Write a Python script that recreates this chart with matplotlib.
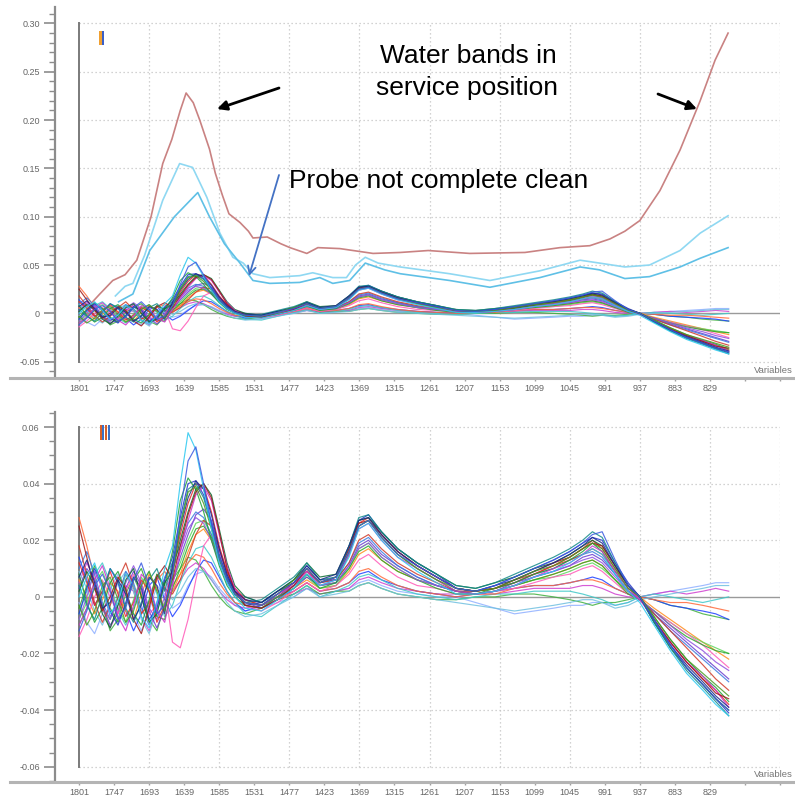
import matplotlib
matplotlib.use('Agg')
import matplotlib.pyplot as plt
import matplotlib.patheffects as pe
import numpy as np
from matplotlib.ticker import MultipleLocator
from matplotlib.lines import Line2D
from matplotlib.patches import FancyArrowPatch

plt.rcParams['font.family'] = ['Liberation Sans', 'DejaVu Sans']

# ---------------- data ----------------
wavenumbers = [1801, 1789, 1777, 1765, 1753, 1741, 1729, 1717, 1705, 1693, 1681, 1669, 1657,
               1645, 1633, 1621, 1609, 1597, 1585, 1573, 1561,
               1545, 1520, 1495, 1470, 1450, 1430, 1405,
               1385, 1370, 1355, 1335, 1310, 1280,
               1250, 1220, 1190, 1160, 1130, 1100,
               1070, 1045, 1025, 1010, 995, 975, 955,
               937, 915, 890, 865, 840, 820, 800]

# spectra values in milli-absorbance units
bundle_mAU = [
    [-2, -9, -13, -6, 3, 8, 2, -6, -12, -5, 4, 1, -4, -2, 4, 8, 9, 7, 3, 0, -3,
     -5, -4, -2, 0, 3, 1, 2, 3, 5, 6, 4, 2, 1, 0, 0, -2, -4, -6, -5,
     -4, -3, -3, -2, -2, -3, -2, 0, 1, 2, 3, 4, 5, 5],
    [5, 12, 6, -4, -11, -5, 4, 2, -7, -12, -4, 6, 2, 6, 10, 12, 10, 6, 2, -1, -3,
     -4, -3, -1, 1, 3, 1, 2, 3, 6, 7, 5, 3, 2, 1, 1, 1, 1, 2, 3,
     3, 3, 4, 4, 3, 1, 0, 0, 1, 2, 1, 2, 3, 2],
    [-10, -4, 3, -3, -12, -8, 1, 7, 1, -8, -12, -3, 6, 10, 14, 13, 9, 4, 0, -3, -5,
     -6, -4, -1, 1, 4, 1, 2, 2, 4, 5, 3, 1, 0, -1, -1, 0, 0, 1, 1,
     0, -1, -2, -3, -2, -2, -1, 0, -1, -3, -4, -6, -7, -8],
    [14, 6, -3, 2, 10, 5, -5, -12, -6, 4, 7, -1, -7, -3, 3, 9, 13, 12, 7, 2, -2,
     -5, -3, 0, 2, 5, 2, 3, 5, 8, 9, 6, 4, 2, 1, 0, 1, 2, 3, 4,
     4, 5, 6, 7, 6, 3, 1, 0, -1, -3, -4, -5, -6, -8],
    [-6, 2, 8, 12, 5, -5, -10, -4, 5, 9, 1, -7, -3, 5, 12, 17, 18, 14, 8, 2, -2,
     -6, -7, -3, 1, 4, 0, 2, 4, 7, 8, 6, 3, 1, 0, -1, 0, 1, 1, 2,
     2, 2, 1, 0, -1, -3, -2, 0, 1, 0, -1, -2, -1, 0],
    [28, 18, 6, -4, -8, 0, 8, 3, -6, -3, 6, 9, 4, 8, 12, 15, 14, 10, 5, 1, -2,
     -3, -4, -1, 2, 5, 2, 3, 5, 9, 10, 7, 4, 2, 1, 0, 1, 1, 3, 4,
     4, 5, 6, 6, 5, 3, 1, 0, -1, -2, -2, -3, -4, -5],
    [9, 3, -5, -10, -3, 5, 9, 2, -8, -13, -5, 3, -1, 2, 7, 10, 9, 6, 2, -2, -5,
     -7, -6, -3, 0, 3, 0, 1, 2, 4, 5, 3, 1, 0, -1, -2, -3, -4, -5, -4,
     -3, -2, -1, -1, -2, -4, -3, -1, 0, 1, 2, 3, 4, 4],
    [6, 0, -6, -1, 5, 2, -5, -8, 1, 8, 3, -4, 2, 8, 16, 22, 24, 20, 13, 6, 1,
     -2, -3, 0, 3, 6, 3, 4, 9, 15, 17, 13, 9, 6, 4, 2, 1, 2, 4, 6,
     8, 10, 12, 13, 11, 6, 2, 0, -4, -8, -12, -16, -19, -22],
    [-8, -2, 5, 9, 2, -4, -9, -1, 7, 2, -7, -2, 6, 12, 20, 26, 27, 22, 14, 7, 2,
     -1, -3, 0, 4, 7, 3, 4, 10, 17, 19, 14, 10, 6, 4, 2, 1, 2, 4, 6,
     7, 9, 11, 12, 10, 6, 2, -1, -5, -9, -13, -16, -18, -20],
    [3, 10, 6, -3, -10, -6, 3, 9, 4, -5, -11, -4, 5, 14, 22, 29, 31, 27, 17, 8, 2,
     -2, -4, -1, 3, 7, 4, 5, 11, 18, 20, 15, 11, 7, 4, 2, 1, 2, 5, 7,
     9, 11, 14, 15, 13, 8, 2, -1, -6, -11, -16, -21, -25, -29],
    [-14, -8, 0, 6, 0, -6, 2, 8, 2, -6, -3, 4, -16, -18, -8, 6, 18, 22, 16, 8, 2,
     -3, -5, -2, 2, 5, 2, 4, 8, 13, 15, 11, 7, 4, 3, 1, 1, 2, 3, 5,
     7, 8, 10, 11, 9, 5, 1, -1, -5, -9, -13, -17, -21, -25],
    [10, 16, 8, -2, -8, 0, 9, 5, -4, -10, -2, 7, 12, 18, 26, 30, 28, 22, 14, 7, 2,
     0, -2, 1, 5, 9, 5, 6, 12, 19, 21, 16, 11, 7, 4, 2, 2, 3, 5, 8,
     10, 13, 15, 16, 14, 8, 2, -1, -6, -12, -17, -22, -26, -30],
    [-4, 4, 11, 5, -4, -9, -3, 6, 10, 2, -7, -8, 3, 10, 18, 24, 25, 21, 13, 6, 1,
     -2, -3, 0, 4, 8, 4, 5, 10, 16, 18, 13, 9, 6, 3, 1, 1, 2, 4, 6,
     8, 10, 12, 13, 11, 6, 1, -1, -5, -10, -14, -17, -19, -20],
    [18, 8, -2, -9, -3, 6, 12, 4, -6, -2, 8, 3, 1, 6, 14, 22, 27, 25, 17, 9, 3,
     -1, -3, 0, 5, 9, 5, 6, 12, 20, 22, 17, 12, 8, 5, 2, 2, 3, 6, 8,
     11, 13, 15, 17, 15, 9, 3, 0, -6, -12, -18, -24, -29, -33],
    [-8, 0, 9, 3, -7, -3, 5, 11, 5, -4, -8, 0, 10, 16, 24, 28, 26, 20, 12, 5, 1,
     -2, -3, 0, 4, 8, 4, 5, 11, 17, 19, 14, 10, 6, 4, 2, 1, 2, 4, 7,
     9, 11, 13, 14, 12, 7, 2, -1, -5, -10, -15, -19, -23, -26],
    [12, 5, -3, 2, 9, 1, -7, -2, 6, 2, -9, -3, 10, 22, 33, 40, 39, 30, 18, 9, 3,
     -1, -3, 1, 5, 10, 5, 7, 17, 26, 28, 22, 16, 11, 7, 3, 2, 3, 5, 8,
     11, 14, 17, 20, 17, 10, 4, 0, -8, -16, -23, -29, -33, -38],
    [-6, 3, 10, 4, -5, -10, -2, 7, 3, -8, -4, 6, 14, 28, 40, 41, 36, 26, 15, 7, 2,
     -3, -2, 2, 6, 11, 6, 6, 16, 27, 29, 23, 17, 12, 8, 3, 2, 4, 7, 10,
     13, 16, 19, 21, 20, 12, 5, 0, -9, -17, -25, -31, -36, -41],
    [8, -2, -9, -4, 5, 9, 2, -6, -10, -1, 8, 4, 16, 34, 42, 38, 30, 20, 11, 4, 0,
     -3, -4, 0, 3, 8, 3, 5, 15, 25, 27, 21, 15, 10, 6, 2, 1, 3, 5, 8,
     10, 13, 16, 19, 16, 9, 3, 0, -7, -15, -22, -28, -32, -37],
    [2, 9, 4, -6, -11, -3, 6, 10, 0, -9, -6, 5, 9, 20, 30, 38, 40, 36, 24, 12, 4,
     0, -2, 2, 6, 12, 7, 8, 18, 27, 28, 23, 17, 12, 8, 4, 3, 5, 7, 10,
     12, 15, 18, 20, 18, 11, 4, 0, -9, -18, -25, -31, -36, -40],
    [-10, -4, 6, 11, 3, -7, -12, -3, 8, 5, -5, -9, 4, 16, 27, 36, 39, 34, 22, 11, 3,
     -2, -3, 1, 4, 9, 4, 6, 15, 24, 26, 20, 14, 10, 6, 2, 1, 2, 4, 7,
     10, 12, 15, 18, 16, 9, 3, -1, -8, -16, -23, -28, -33, -39],
    [25, 14, 3, -5, 0, 7, 3, -8, -13, -4, 7, 11, 6, 18, 29, 37, 40, 35, 23, 10, 2,
     -3, -4, -1, 4, 10, 5, 7, 17, 26, 27, 22, 16, 11, 7, 3, 2, 3, 6, 9,
     12, 14, 17, 19, 18, 11, 4, 0, -8, -16, -23, -29, -34, -36],
    [4, -3, -8, 1, 10, 6, -4, -9, -2, 6, 10, 2, 12, 26, 38, 40, 35, 25, 14, 6, 1,
     -2, -1, 3, 7, 12, 6, 7, 18, 28, 29, 23, 17, 12, 8, 4, 3, 5, 8, 11,
     14, 17, 20, 23, 21, 12, 4, 0, -9, -18, -26, -32, -37, -42],
    [7, 13, 5, -4, -2, 6, 1, -8, -3, 7, 4, -6, 11, 24, 35, 41, 38, 29, 17, 8, 2,
     -1, -2, 2, 5, 11, 6, 8, 18, 27, 28, 22, 16, 11, 7, 3, 2, 4, 6, 9,
     12, 15, 18, 21, 19, 11, 4, 0, -8, -17, -24, -30, -35, -39],
    [-3, -10, -5, 4, 7, -1, -9, -5, 4, 9, 2, -5, 7, 25, 37, 39, 33, 24, 14, 6, 1,
     -2, -3, 1, 6, 10, 5, 7, 16, 25, 27, 21, 15, 10, 6, 3, 2, 3, 6, 9,
     11, 14, 17, 19, 17, 10, 3, 0, -7, -15, -22, -27, -31, -35],
    [0, 7, 12, 3, -6, -2, 8, 4, -7, -11, -2, 10, 18, 40, 58, 52, 38, 24, 12, 5, 0,
     -4, -5, -1, 3, 8, 4, 6, 14, 24, 26, 20, 14, 9, 5, 1, 1, 2, 4, 7,
     9, 12, 15, 17, 15, 8, 2, -2, -10, -19, -27, -33, -38, -42],
    [-12, -5, 4, 8, 2, -8, -4, 6, 12, 4, -6, -3, 8, 30, 48, 53, 40, 26, 14, 6, 1,
     -2, -3, 1, 5, 10, 5, 7, 16, 25, 27, 21, 15, 11, 7, 3, 2, 4, 7, 10,
     13, 16, 19, 22, 23, 13, 4, 0, -8, -17, -25, -31, -36, -40],
]
bundle_colors = ['#8fb0ff', '#d040d0', '#40b040', '#2040ff', '#40c8c8', '#ff6a3a', '#70c0e0',
                 '#ff8a1c', '#5ed65e', '#6a3dcf', '#ff5ab8', '#3b7be0', '#2aa82a', '#d03a2a',
                 '#9050e0', '#e8262a', '#2233cc', '#1ea33a', '#0a6a30', '#cc33cc', '#a01818',
                 '#128a8a', '#1a2a8a', '#4a9a20', '#2ac8f0', '#3a5ae0']

water_wn = [1780, 1769, 1749, 1730, 1712, 1690, 1672, 1658, 1645, 1636, 1625, 1615, 1600,
            1591, 1580, 1570, 1553, 1540, 1533, 1511, 1490, 1476, 1450, 1433, 1399, 1348,
            1306, 1263, 1199, 1114, 1060, 1014, 983, 960, 937, 906, 875, 844, 821, 801]
water_val = [0.012, 0.020, 0.034, 0.040, 0.055, 0.100, 0.155, 0.180, 0.210, 0.228, 0.218,
             0.200, 0.170, 0.145, 0.122, 0.103, 0.094, 0.085, 0.078, 0.079, 0.072, 0.068,
             0.062, 0.068, 0.067, 0.062, 0.063, 0.065, 0.062, 0.063, 0.068, 0.070, 0.077,
             0.085, 0.096, 0.127, 0.169, 0.220, 0.262, 0.290]

dirty1_wn = [1745, 1730, 1718, 1700, 1672, 1646, 1626, 1604, 1584, 1564, 1548, 1533, 1507,
             1461, 1441, 1410, 1389, 1375, 1360, 1340, 1306, 1230, 1168, 1091, 1029, 999,
             960, 922, 875, 844, 801]
dirty1_val = [0.018, 0.028, 0.031, 0.060, 0.117, 0.155, 0.151, 0.120, 0.083, 0.058, 0.052,
              0.041, 0.037, 0.039, 0.042, 0.037, 0.037, 0.050, 0.058, 0.052, 0.048, 0.041,
              0.034, 0.044, 0.055, 0.052, 0.048, 0.050, 0.065, 0.083, 0.101]

dirty2_wn = [1740, 1718, 1692, 1654, 1618, 1600, 1577, 1553, 1533, 1507, 1461, 1430, 1410,
             1384, 1360, 1330, 1306, 1230, 1168, 1091, 1029, 999, 960, 922, 875, 844, 801]
dirty2_val = [0.012, 0.020, 0.065, 0.100, 0.125, 0.100, 0.072, 0.052, 0.034, 0.031, 0.032,
              0.037, 0.031, 0.034, 0.052, 0.045, 0.041, 0.034, 0.027, 0.037, 0.048, 0.045,
              0.036, 0.038, 0.048, 0.057, 0.068]

x_tick_values = [1801, 1747, 1693, 1639, 1585, 1531, 1477, 1423, 1369, 1315, 1261, 1207,
                 1153, 1099, 1045, 991, 937, 883, 829, 775, 721]
x_tick_labels = ['1801', '1747', '1693', '1639', '1585', '1531', '1477', '1423', '1369',
                 '1315', '1261', '1207', '1153', '1099', '1045', '991', '937', '883', '829',
                 '', '']
x_grid_values = [1693, 1585, 1477, 1369, 1261, 1153, 1045, 937, 829, 721]

top_yticks = [-0.05, 0.0, 0.05, 0.10, 0.15, 0.20, 0.25, 0.30]
top_ylabels = ['-0.05', '0', '0.05', '0.10', '0.15', '0.20', '0.25', '0.30']
bot_yticks = [-0.06, -0.04, -0.02, 0.0, 0.02, 0.04, 0.06]
bot_ylabels = ['-0.06', '-0.04', '-0.02', '0', '0.02', '0.04', '0.06']

# ---------------- figure ----------------
W, H = 795, 799
fig = plt.figure(figsize=(W / 100, H / 100), dpi=100)


def fx(px):
    return px / W


def fy(py):
    return 1 - py / H


ax1 = fig.add_axes([fx(55), fy(378), fx(780) - fx(55), fy(7) - fy(378)])
ax2 = fig.add_axes([fx(55), fy(782), fx(780) - fx(55), fy(412) - fy(782)])

GRID = '#c4c4c4'
AXC = '#8c8c8c'
LBL = '#666666'


def style(ax, ylim, yticks, ylabels, minor):
    ax.set_xlim(1838, 721)
    ax.set_ylim(*ylim)
    for s in ['top', 'right', 'bottom']:
        ax.spines[s].set_visible(False)
    ax.spines['left'].set_color(AXC)
    ax.spines['left'].set_linewidth(1.6)
    ax.set_yticks(yticks)
    ax.set_yticklabels(ylabels)
    ax.yaxis.set_minor_locator(MultipleLocator(minor))
    ax.tick_params(axis='y', which='major', length=8, width=1.2, color=AXC,
                   labelsize=6.5, labelcolor=LBL, pad=3)
    ax.tick_params(axis='y', which='minor', length=4, width=1.0, color=AXC)
    ax.set_xticks(x_tick_values)
    ax.set_xticklabels(x_tick_labels)
    ax.tick_params(axis='x', which='major', length=2, width=1.0, color='#a0a0a0',
                   labelsize=6.5, labelcolor=LBL, pad=2.5)
    ybot, ytop = yticks[0], yticks[-1]
    for g in x_grid_values:
        ax.plot([g, g], [ybot, ytop], color=GRID, lw=0.9, ls=(0, (1, 2.2)), zorder=0)
    for t in yticks:
        if t != 0:
            ax.plot([1801, 721], [t, t], color=GRID, lw=0.9, ls=(0, (1, 2.2)), zorder=0)
    ax.plot([1801, 721], [0, 0], color='#9a9a9a', lw=1.0, zorder=1)
    ax.plot([1801, 1801], [ybot, ytop], color='#7a7a7a', lw=1.4, zorder=1)
    for vals, c in zip(bundle_mAU, bundle_colors):
        ax.plot(wavenumbers, np.array(vals) / 1000.0, color=c, lw=0.85, alpha=0.85,
                zorder=2, solid_joinstyle='round')


style(ax1, (-0.0669, 0.317), top_yticks, top_ylabels, 0.01)
style(ax2, (-0.0654, 0.0653), bot_yticks, bot_ylabels, 0.005)

ax1.plot(water_wn, water_val, color='#c98282', lw=1.2, zorder=3)
ax1.plot(dirty1_wn, dirty1_val, color='#8fd8f2', lw=1.2, zorder=3)
ax1.plot(dirty2_wn, dirty2_val, color='#5fc0e6', lw=1.2, zorder=3)

# long bottom axis lines
for yb in (378, 782):
    fig.add_artist(Line2D([fx(10), 1.0], [fy(yb), fy(yb)], transform=fig.transFigure,
                          color='#b4b4b4', lw=2.2))
    fig.text(fx(793), fy(yb - 5), 'Variables', fontsize=6.8, color='#777777',
             ha='right', va='baseline')

# panel labels (blue glyph with an orange fringe drawn as a shadow effect)
fig.text(fx(103), fy(40), 'I', fontsize=14, fontweight='bold', color='#3a5fc8',
         ha='center', va='center',
         path_effects=[pe.withSimplePatchShadow(offset=(-1.6, 0), shadow_rgbFace='#f0a030',
                                                alpha=1.0), pe.Normal()])
fig.text(fx(106), fy(434), 'II', fontsize=15, color='#3a70c8',
         ha='center', va='center',
         path_effects=[pe.withSimplePatchShadow(offset=(-1.8, 0), shadow_rgbFace='#d8602a',
                                                alpha=1.0), pe.Normal()])

# annotations
fig.text(fx(468), fy(63), 'Water bands in', fontsize=19, color='black', ha='center',
         va='baseline')
fig.text(fx(467), fy(95), 'service position', fontsize=19, color='black', ha='center',
         va='baseline')
fig.text(fx(289), fy(188), 'Probe not complete clean', fontsize=19, color='black',
         ha='left', va='baseline')

arrow_k = dict(arrowstyle='-|>', color='black', lw=2.0, mutation_scale=14,
               shrinkA=0, shrinkB=0)
fig.add_artist(FancyArrowPatch((fx(279), fy(88)), (fx(217), fy(109)),
                               transform=fig.transFigure, **arrow_k))
fig.add_artist(FancyArrowPatch((fx(658), fy(94)), (fx(697), fy(109)),
                               transform=fig.transFigure, **arrow_k))
fig.add_artist(FancyArrowPatch((fx(279), fy(175)), (fx(249), fy(276)),
                               transform=fig.transFigure,
                               arrowstyle='->', color='#4472c4', lw=1.3,
                               mutation_scale=14, shrinkA=0, shrinkB=0))

fig.savefig('out.png', dpi=100)
